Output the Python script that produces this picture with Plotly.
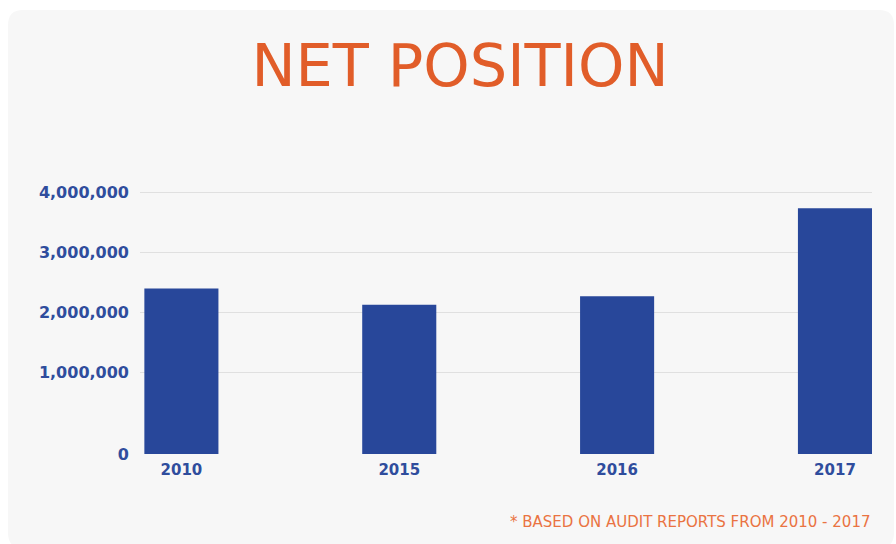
import plotly.graph_objects as go

# Net position by audit year
years = ["2010", "2015", "2016", "2017"]
net_position = [2400000, 2130000, 2270000, 3730000]

# Value axis: gridlines every million, with the baseline tick drawn a little below
axis_floor = -350000
grid_values = [1000000, 2000000, 3000000, 4000000]
grid_labels = ["1,000,000", "2,000,000", "3,000,000", "4,000,000"]

title_text = "NET POSITION"
footnote_text = "* BASED ON AUDIT REPORTS FROM 2010 - 2017"

W, H = 896, 544
ML, MR, MT, MB = 140, 24, 180, 90
PW, PH = W - ML - MR, H - MT - MB

BLUE = "#28479a"
LABEL_BLUE = "#2f4d9d"
ORANGE = "#e15d29"
NOTE_ORANGE = "#ea7342"
CARD = "#f7f7f7"
GRID = "#e0e0e0"
FONT = "DejaVu Sans"


def px_x(p):
    return (p - ML) / PW


def px_y(p):
    return (H - MB - p) / PH


# rounded card behind the whole chart
x0, x1, y0, y1, r = 8, 894, 10, 548, 15
card_path = (
    f"M {px_x(x0 + r)},{px_y(y0)} L {px_x(x1 - r)},{px_y(y0)} "
    f"Q {px_x(x1)},{px_y(y0)} {px_x(x1)},{px_y(y0 + r)} "
    f"L {px_x(x1)},{px_y(y1 - r)} Q {px_x(x1)},{px_y(y1)} {px_x(x1 - r)},{px_y(y1)} "
    f"L {px_x(x0 + r)},{px_y(y1)} Q {px_x(x0)},{px_y(y1)} {px_x(x0)},{px_y(y1 - r)} "
    f"L {px_x(x0)},{px_y(y0 + r)} Q {px_x(x0)},{px_y(y0)} {px_x(x0 + r)},{px_y(y0)} Z"
)

fig = go.Figure(
    go.Bar(
        x=years,
        y=[v - axis_floor for v in net_position],
        base=axis_floor,
        width=0.34,
        marker=dict(color=BLUE, line=dict(width=0)),
        customdata=net_position,
        hovertemplate="%{x}: %{customdata:,}<extra></extra>",
    )
)

fig.update_layout(
    width=W,
    height=H,
    margin=dict(l=ML, r=MR, t=MT, b=MB),
    paper_bgcolor="white",
    plot_bgcolor="rgba(0,0,0,0)",
    showlegend=False,
    font=dict(family=FONT, color=LABEL_BLUE),
    shapes=[
        dict(
            type="path",
            path=card_path,
            xref="paper",
            yref="paper",
            fillcolor=CARD,
            line=dict(width=0),
            layer="below",
        )
    ],
    title=dict(
        text=title_text,
        x=460 / W,
        xref="container",
        xanchor="center",
        y=1 - 65 / H,
        yref="container",
        yanchor="middle",
        font=dict(family=FONT, size=59, color=ORANGE),
    ),
    annotations=[
        dict(
            text=footnote_text,
            xref="paper",
            yref="paper",
            x=1,
            y=px_y(522),
            xanchor="right",
            yanchor="middle",
            showarrow=False,
            font=dict(family=FONT, size=15, color=NOTE_ORANGE),
        )
    ],
)

fig.update_xaxes(
    type="category",
    range=[-0.19, 3.17],
    showgrid=False,
    showline=False,
    zeroline=False,
    ticks="",
    ticklabelstandoff=5,
    tickfont=dict(family=FONT, size=15, color=LABEL_BLUE, weight="bold"),
)

fig.update_yaxes(
    range=[axis_floor, 4200000],
    tickvals=[axis_floor] + grid_values,
    ticktext=["0"] + grid_labels,
    showgrid=True,
    gridcolor=GRID,
    gridwidth=1,
    zeroline=False,
    showline=False,
    ticks="",
    ticklabelstandoff=10,
    tickfont=dict(family=FONT, size=16, color=LABEL_BLUE, weight="bold"),
)

fig.write_html("out.html")
